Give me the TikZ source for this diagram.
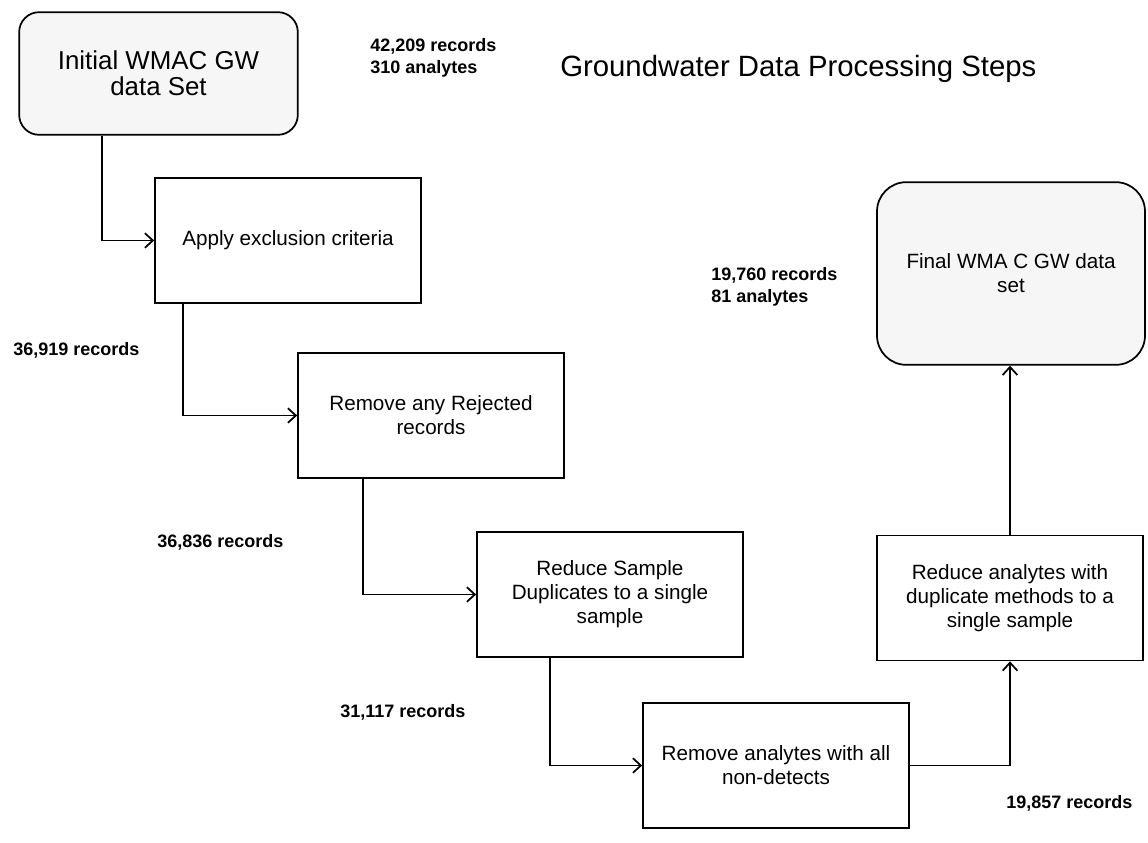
\documentclass[tikz,border=0pt]{standalone}
\usepackage{fontspec}
\setmainfont{Liberation Sans}
\usetikzlibrary{arrows.meta}

\tikzset{
  stepbox/.style={draw, line width=1.3pt, minimum width=199.5pt, minimum height=93.75pt,
    align=center, inner sep=2pt, font=\fontsize{15.5}{18}\selectfont},
  setbox/.style={draw, line width=1.3pt, fill=gray!7, align=center, inner sep=2pt},
  count/.style={anchor=west, align=left, inner sep=0pt, font=\fontsize{13.5}{16.5}\selectfont\bfseries},
  flow/.style={line width=1.3pt, -{Straight Barb[length=6pt,width=11pt]}},
}

\begin{document}
\begin{tikzpicture}[x=0.75pt, y=-0.75pt]
\useasboundingbox[fill=white] (0,0) rectangle (1148,842);

% data sets
\node[setbox, rounded corners=15pt, minimum width=209pt, minimum height=92pt,
  font=\fontsize{19.4}{19.5}\selectfont] (init) at (158.5,73.5) {Initial WMAC GW\\data Set};
\node[setbox, rounded corners=22pt, minimum width=201pt, minimum height=137pt,
  font=\fontsize{15.5}{18}\selectfont] (final) at (1011,273.5) {Final WMA C GW data\\set};

% processing steps
\node[stepbox] (apply) at (288,240.5) {Apply exclusion criteria};
\node[stepbox] (reject) at (431,415.5) {Remove any Rejected\\records};
\node[stepbox] (dupsample) at (610,594.5) {Reduce Sample\\Duplicates to a single\\sample};
\node[stepbox] (nondet) at (776,765.5) {Remove analytes with all\\non-detects};
\node[stepbox] (dupmethod) at (1010,598) {Reduce analytes with\\duplicate methods to a\\single sample};

% where the lines leave the boxes
\coordinate (c1) at (102,0);
\coordinate (c2) at (183,0);
\coordinate (c3) at (363,0);
\coordinate (c4) at (550,0);

\draw[flow] (init.south -| c1) |- (apply.west);
\draw[flow] (apply.south -| c2) |- (reject.west);
\draw[flow] (reject.south -| c3) |- (dupsample.west);
\draw[flow] (dupsample.south -| c4) |- (nondet.west);
\draw[flow] (nondet.east) -| (dupmethod.south);
\draw[flow] (dupmethod.north) -- (final.south -| dupmethod.north);

% record counts
\node[count] (n0) at (370,58) {42,209 records\\310 analytes};
\node[count] (n1) at (13,350) {36,919 records};
\node[count] (n2) at (157,542) {36,836 records};
\node[count] (n3) at (340,712) {31,117 records};
\node[count] (n4) at (1006,803) {19,857 records};
\node[count] (n5) at (711,287) {19,760 records\\81 analytes};

\node[anchor=west, inner sep=0pt, font=\fontsize{22}{26}\selectfont] (title) at (560,69)
  {Groundwater Data Processing Steps};
\end{tikzpicture}
\end{document}
